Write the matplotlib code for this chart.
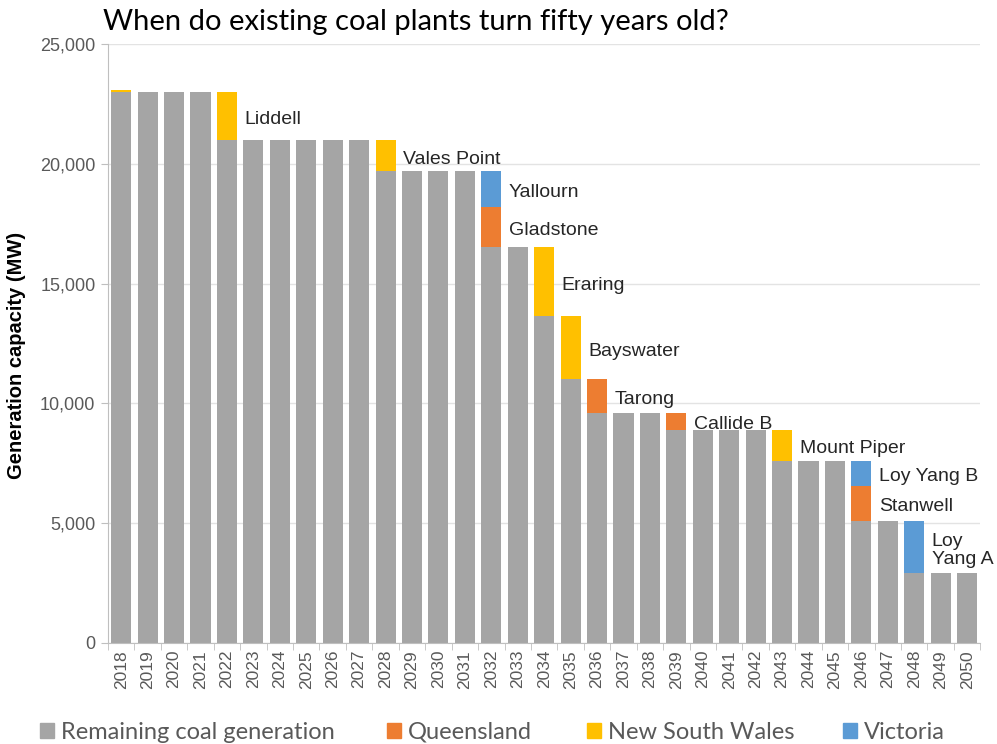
import numpy as np
import matplotlib
matplotlib.use("Agg")
import matplotlib.pyplot as plt
from matplotlib.patches import Patch

# ---- data (MW) ----
years = list(range(2018, 2051))
remaining = [23000, 23000, 23000, 23000, 21000, 21000, 21000, 21000, 21000, 21000,
             19680, 19680, 19680, 19680, 16520, 16520, 13640, 11000, 9600, 9600,
             9600, 8900, 8900, 8900, 8900, 7600, 7600, 7600, 5100, 5100,
             2900, 2900, 2900]
queensland = {2032: 1680, 2036: 1400, 2039: 700, 2046: 1460}
nsw = {2018: 80, 2022: 2000, 2028: 1320, 2034: 2880, 2035: 2640, 2043: 1300}
victoria = {2032: 1480, 2046: 1040, 2048: 2200}

# plant labels: (year, state series, name)
plants = [(2022, "nsw", "Liddell"), (2028, "nsw", "Vales Point"),
          (2032, "vic", "Yallourn"), (2032, "qld", "Gladstone"),
          (2034, "nsw", "Eraring"), (2035, "nsw", "Bayswater"),
          (2036, "qld", "Tarong"), (2039, "qld", "Callide B"),
          (2043, "nsw", "Mount Piper"), (2046, "vic", "Loy Yang B"),
          (2046, "qld", "Stanwell"), (2048, "vic", "Loy\nYang A")]

c_grey = "#A5A5A5"
c_qld = "#ED7D31"
c_nsw = "#FFC000"
c_vic = "#5B9BD5"

x = np.arange(len(years))
rem = np.array(remaining, dtype=float)
qld = np.array([queensland.get(y, 0) for y in years], dtype=float)
ns = np.array([nsw.get(y, 0) for y in years], dtype=float)
vic = np.array([victoria.get(y, 0) for y in years], dtype=float)

fig = plt.figure(figsize=(9.97, 7.44), dpi=100)
ax = fig.add_axes([0.1083, 0.1358, 0.875, 0.805])

w = 0.76
ax.bar(x, rem, w, color=c_grey, zorder=2)
ax.bar(x, qld, w, bottom=rem, color=c_qld, zorder=2)
ax.bar(x, ns, w, bottom=rem + qld, color=c_nsw, zorder=2)
ax.bar(x, vic, w, bottom=rem + qld + ns, color=c_vic, zorder=2)

# labels next to the retiring segment
bottoms = {"qld": rem, "nsw": rem + qld, "vic": rem + qld + ns}
heights = {"qld": qld, "nsw": ns, "vic": vic}
for yr, key, name in plants:
    i = years.index(yr)
    mid = bottoms[key][i] + heights[key][i] / 2
    ax.text(i + 0.66, mid - 150, name, va="center", ha="left", fontsize=14,
            family="Liberation Sans", color="#262626", linespacing=1.1)

ax.set_xlim(-0.5, len(years) - 0.5)
ax.set_ylim(0, 25000)
ax.set_yticks(np.arange(0, 25001, 5000))
ax.set_yticklabels([f"{v:,}" for v in range(0, 25001, 5000)],
                   fontsize=13, family="Liberation Sans", color="#595959")
ax.set_xticks(x)
ax.set_xticklabels([str(y) for y in years], rotation=90, fontsize=12.5,
                   family="Liberation Sans", color="#595959")
ax.set_xticks(np.arange(-0.5, len(years)), minor=True)
ax.tick_params(axis="x", which="major", length=0, pad=5)
ax.tick_params(axis="x", which="minor", length=5, color="#BFBFBF", direction="out")
ax.tick_params(axis="y", length=5, color="#BFBFBF", direction="out", pad=4)

ax.grid(axis="y", color="#E3E3E3", linewidth=1, zorder=0)
for s in ["top", "right"]:
    ax.spines[s].set_visible(False)
for s in ["left", "bottom"]:
    ax.spines[s].set_color("#BFBFBF")

ax.set_ylabel("Generation capacity (MW)", fontsize=14.5, fontweight="bold",
              family="Liberation Sans", color="black")
ax.yaxis.set_label_coords(-0.094, 0.48)

fig.text(0.103, 0.97, "When do existing coal plants turn fifty years old?",
         fontsize=21, family="Lato", color="black", va="center", ha="left")

# legend entries placed individually along the bottom
handles = [Patch(color=c_grey, label="Remaining coal generation"),
           Patch(color=c_qld, label="Queensland"),
           Patch(color=c_nsw, label="New South Wales"),
           Patch(color=c_vic, label="Victoria")]
leg_x = [40, 387, 587, 843]
for h, lx in zip(handles, leg_x):
    leg = fig.legend(handles=[h], loc="center left", bbox_to_anchor=(lx / 997, 0.016),
                     frameon=False, handlelength=0.6, handleheight=0.6,
                     handletextpad=0.3, borderpad=0, borderaxespad=0,
                     prop={"family": "Lato", "size": 17})
    for t in leg.get_texts():
        t.set_color("#595959")

fig.savefig("out.png", dpi=100)
